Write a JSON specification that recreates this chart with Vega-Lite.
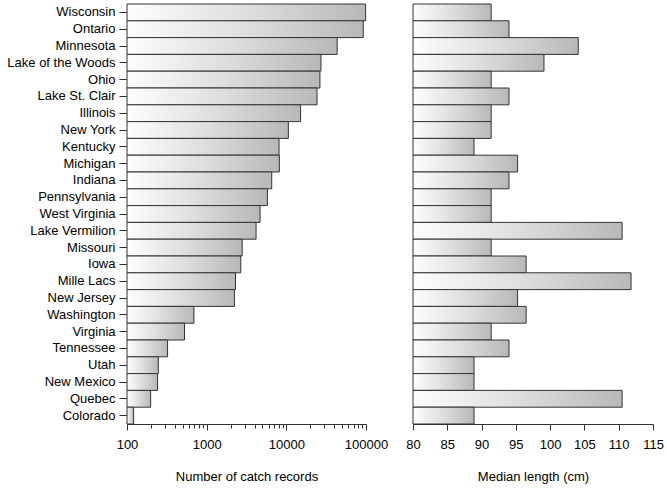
{
  "$schema": "https://vega.github.io/schema/vega-lite/v6.json",
  "background": "white",
  "padding": {"left": 6, "top": 3, "right": 5, "bottom": 5},
  "bounds": "flush",
  "spacing": 47,
  "config": {
    "view": {"stroke": null},
    "font": "Liberation Sans",
    "axis": {
      "labelFont": "Liberation Sans",
      "titleFont": "Liberation Sans",
      "labelFontSize": 13,
      "titleFontSize": 13,
      "labelColor": "#000",
      "titleColor": "#000",
      "titleFontWeight": "normal",
      "domainColor": "#333",
      "tickColor": "#333",
      "grid": false
    }
  },
  "data": {
    "values": [
      {"region": "Wisconsin", "records": 98900, "length": 91.4},
      {"region": "Ontario", "records": 92300, "length": 94.0},
      {"region": "Minnesota", "records": 43500, "length": 104.1},
      {"region": "Lake of the Woods", "records": 27200, "length": 99.1},
      {"region": "Ohio", "records": 26400, "length": 91.4},
      {"region": "Lake St. Clair", "records": 24300, "length": 94.0},
      {"region": "Illinois", "records": 15100, "length": 91.4},
      {"region": "New York", "records": 10600, "length": 91.4},
      {"region": "Kentucky", "records": 8100, "length": 88.9},
      {"region": "Michigan", "records": 8170, "length": 95.25},
      {"region": "Indiana", "records": 6560, "length": 94.0},
      {"region": "Pennsylvania", "records": 5780, "length": 91.4},
      {"region": "West Virginia", "records": 4680, "length": 91.4},
      {"region": "Lake Vermilion", "records": 4170, "length": 110.5},
      {"region": "Missouri", "records": 2790, "length": 91.4},
      {"region": "Iowa", "records": 2680, "length": 96.5},
      {"region": "Mille Lacs", "records": 2300, "length": 111.8},
      {"region": "New Jersey", "records": 2230, "length": 95.25},
      {"region": "Washington", "records": 692, "length": 96.5},
      {"region": "Virginia", "records": 527, "length": 91.4},
      {"region": "Tennessee", "records": 323, "length": 94.0},
      {"region": "Utah", "records": 247, "length": 88.9},
      {"region": "New Mexico", "records": 242, "length": 88.9},
      {"region": "Quebec", "records": 198, "length": 110.5},
      {"region": "Colorado", "records": 121, "length": 88.9}
    ]
  },
  "hconcat": [
    {
      "width": 239,
      "height": 420,
      "mark": {
        "type": "bar",
        "stroke": "#333",
        "strokeWidth": 1,
        "fill": {
          "gradient": "linear",
          "x1": 0, "y1": 0, "x2": 1, "y2": 0,
          "stops": [
            {"offset": 0, "color": "#fdfdfd"},
            {"offset": 0.5, "color": "#dedede"},
            {"offset": 1, "color": "#b8b8b8"}
          ]
        }
      },
      "encoding": {
        "y": {
          "field": "region",
          "type": "nominal",
          "sort": null,
          "scale": {"paddingInner": 0, "paddingOuter": 0},
          "axis": {"title": null, "tickSize": 8, "labelPadding": 4, "domain": true}
        },
        "x": {
          "field": "records",
          "type": "quantitative",
          "scale": {"type": "log", "domain": [100, 100000], "nice": false},
          "axis": {
            "title": "Number of catch records",
            "titlePadding": 19,
            "values": [100, 200, 300, 400, 500, 600, 700, 800, 900, 1000, 2000, 3000, 4000, 5000, 6000, 7000, 8000, 9000, 10000, 20000, 30000, 40000, 50000, 60000, 70000, 80000, 90000, 100000],
            "labelExpr": "(datum.value == 100 || datum.value == 1000 || datum.value == 10000 || datum.value == 100000) ? format(datum.value, 'd') : ''",
            "labelOverlap": false,
            "labelFlush": false,
            "labelPadding": 8,
            "tickSize": {"condition": {"test": "datum.value == 100 || datum.value == 1000 || datum.value == 10000 || datum.value == 100000", "value": 6}, "value": 4}
          }
        },
        "x2": {"datum": 100}
      }
    },
    {
      "width": 240,
      "height": 420,
      "mark": {
        "type": "bar",
        "stroke": "#333",
        "strokeWidth": 1,
        "fill": {
          "gradient": "linear",
          "x1": 0, "y1": 0, "x2": 1, "y2": 0,
          "stops": [
            {"offset": 0, "color": "#fdfdfd"},
            {"offset": 0.5, "color": "#dedede"},
            {"offset": 1, "color": "#b8b8b8"}
          ]
        }
      },
      "encoding": {
        "y": {
          "field": "region",
          "type": "nominal",
          "sort": null,
          "scale": {"paddingInner": 0, "paddingOuter": 0},
          "axis": {"title": null, "labels": false, "ticks": false, "domain": true}
        },
        "x": {
          "field": "length",
          "type": "quantitative",
          "scale": {"domain": [80, 115], "zero": false, "nice": false},
          "axis": {
            "title": "Median length (cm)",
            "titlePadding": 19,
            "values": [80, 85, 90, 95, 100, 105, 110, 115],
            "labelFlush": false,
            "labelPadding": 8,
            "tickSize": 6
          }
        },
        "x2": {"datum": 80}
      }
    }
  ]
}
